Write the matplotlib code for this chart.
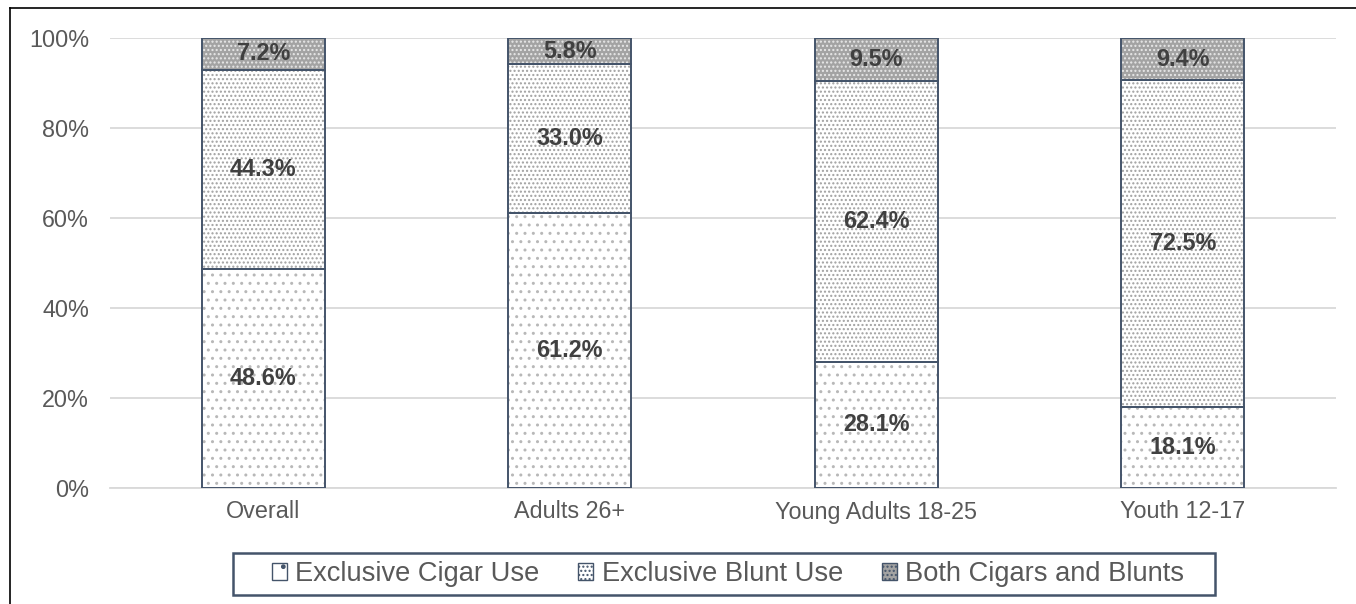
import numpy as np
import matplotlib
matplotlib.use("Agg")
import matplotlib.pyplot as plt
import matplotlib.patches as mpatches
from matplotlib.lines import Line2D

plt.rcParams['font.family'] = ['Liberation Sans', 'DejaVu Sans']
plt.rcParams['hatch.linewidth'] = 1.0

categories = ["Overall", "Adults 26+", "Young Adults 18-25", "Youth 12-17"]
cigar = [48.6, 61.2, 28.1, 18.1]
blunt = [44.3, 33.0, 62.4, 72.5]
both = [7.2, 5.8, 9.5, 9.4]
series_names = ["Exclusive Cigar Use", "Exclusive Blunt Use", "Both Cigars and Blunts"]
yticks = [0, 20, 40, 60, 80, 100]

edge = '#44546A'
face = ['white', 'white', '#a3a3a3']
hatch_col = ['#b8b8b8', '#a0a0a0', '#e8e8e8']
hatches = ['..', '....', '....']

fig = plt.figure(figsize=(13.56, 6.04), dpi=100)
ax = fig.add_axes([110/1356, 1-488/604, 1226/1356, 450/604])

x = np.arange(len(categories))
w = 0.4
bottom = np.zeros(len(categories))
for vals, fc, hc, h in zip([cigar, blunt, both], face, hatch_col, hatches):
    vals = np.array(vals)
    ax.bar(x, vals, w, bottom=bottom, color=fc, edgecolor=hc, hatch=h, linewidth=0, zorder=2)
    ax.bar(x, vals, w, bottom=bottom, fill=False, edgecolor=edge, linewidth=1.4, zorder=3)
    for xi, b, v in zip(x, bottom, vals):
        ax.text(xi, b + v/2, f"{v:.1f}%", ha='center', va='center', fontsize=16.8,
                fontweight='bold', color='#404040', zorder=4)
    bottom = bottom + vals

ax.set_xlim(-0.5, len(categories) - 0.5)
ax.set_ylim(0, 100)
ax.set_yticks(yticks)
ax.set_yticklabels([f"{t}%" for t in yticks])
ax.set_xticks(x)
ax.set_xticklabels(categories)
ax.tick_params(axis='y', length=0, pad=15, labelsize=16.8, labelcolor='#595959')
ax.tick_params(axis='x', length=0, pad=9, labelsize=16.8, labelcolor='#595959')
ax.yaxis.grid(True, color='#d9d9d9', linewidth=1.3, zorder=0)
ax.set_axisbelow(True)
for s in ['left', 'right', 'top']:
    ax.spines[s].set_visible(False)
ax.spines['bottom'].set_color('#d9d9d9')
ax.spines['bottom'].set_linewidth(1.3)

handles = [mpatches.Patch(facecolor=fc, edgecolor=edge, hatch=h, linewidth=1.0)
           for fc, h in zip(face, ['.', '....', '....'])]
leg = fig.legend(handles, series_names, loc='center', bbox_to_anchor=(728/1356, 1-574/604),
                 ncol=3, fontsize=19.6, frameon=False, handlelength=0.55,
                 handleheight=0.55, handletextpad=0.3, columnspacing=1.45, borderpad=0.3,
                 labelcolor='#595959')

# legend box
fig.add_artist(mpatches.Rectangle((233/1356, 1-595/604), 982/1356, 42/604,
                                  transform=fig.transFigure, fill=False,
                                  edgecolor=edge, linewidth=1.8))

fig.add_artist(Line2D([10/1356, 10/1356], [0, 1-8/604], color='black', linewidth=1.2))
fig.add_artist(Line2D([10/1356, 1], [1-8/604, 1-8/604], color='black', linewidth=1.2))

fig.savefig("out.png", dpi=100)
